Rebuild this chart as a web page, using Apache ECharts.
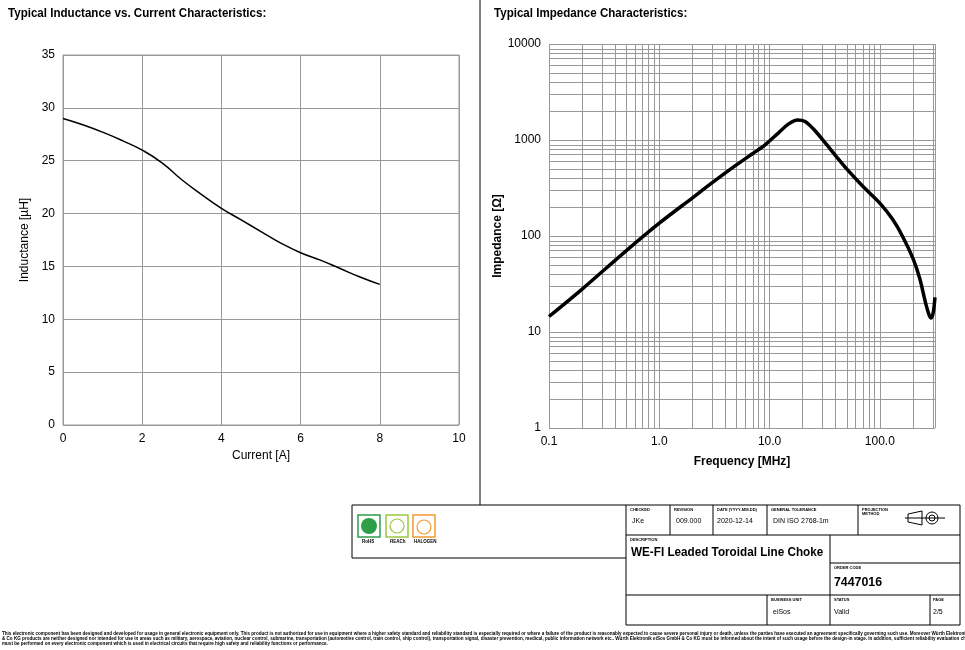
<!DOCTYPE html>
<html><head><meta charset="utf-8">
<script src="https://cdn.jsdelivr.net/npm/echarts@6/dist/echarts.min.js"></script>
<style>html,body{margin:0;padding:0;background:#fff}#c{width:965px;height:650px}</style>
</head><body><div id="c"></div>
<script>
const currentA = [0, 0.5, 1, 1.5, 2, 2.5, 3, 3.5, 4, 4.5, 5, 5.5, 6, 6.5, 7, 7.5, 8];
const inductanceUH = [29, 28.4, 27.7, 26.9, 26.0, 24.8, 23.2, 21.8, 20.5, 19.4, 18.3, 17.2, 16.3, 15.6, 14.8, 14.0, 13.3];
const freqMHz = [0.1, 0.2, 0.5, 1, 2, 3, 5, 7, 9, 12, 15, 18, 21, 25, 30, 40, 50, 70, 100, 130, 160, 200, 230, 260, 280, 292, 305, 316];
const impedanceOhm = [14.5, 28, 70, 136, 250, 357, 550, 720, 880, 1180, 1480, 1620, 1560, 1300, 1020, 680, 500, 330, 220, 150, 100, 58, 36, 20, 15, 14, 16, 23];
const xTicks = ['0.1', '1.0', '10.0', '100.0'];
const yTicks = ['1', '10', '100', '1000', '10000'];

const L = v => Math.log10(v);
const minorX = [], minorY = [];
for (let d = -1; d <= 2; d++) for (let k = 1; k <= 9; k++) { const v = d + L(k); if (v <= 2.5) minorX.push(v); }
for (let d = 0; d <= 3; d++) for (let k = 1; k <= 9; k++) minorY.push(d + L(k));
minorY.push(4);

const chart = echarts.init(document.getElementById('c'));
const F = 'Liberation Sans, Arial, sans-serif';
const gray = '#999';
function line(x1, y1, x2, y2) { return { type: 'line', shape: { x1, y1, x2, y2 }, style: { stroke: '#000', lineWidth: 1 } }; }
function txt(x, y, t, size, bold, sx) { return { type: 'text', x, y, scaleX: sx || 1, style: { text: t, font: (bold ? 'bold ' : '') + size + 'px ' + F, fill: '#000' } }; }

const graphics = [
  txt(8, 7, 'Typical Inductance vs. Current Characteristics:', 13, true, 0.89),
  txt(494, 7, 'Typical Impedance Characteristics:', 13, true, 0.89),
  line(480, 0, 480, 505),
  line(352, 505, 960, 505), line(352, 505, 352, 558), line(352, 558, 626, 558),
  line(626, 505, 626, 625), line(626, 625, 960, 625), line(960, 505, 960, 625),
  line(626, 535, 960, 535), line(830, 535, 830, 625), line(830, 563, 960, 563), line(626, 595, 960, 595),
  line(670, 505, 670, 535), line(713, 505, 713, 535), line(767, 505, 767, 535), line(858, 505, 858, 535),
  line(767, 595, 767, 625), line(930, 595, 930, 625),
  { type: 'rect', shape: { x: 358, y: 515, width: 22, height: 22 }, style: { fill: 'none', stroke: '#2e9e48', lineWidth: 1.5 } },
  { type: 'circle', shape: { cx: 369, cy: 526, r: 8 }, style: { fill: '#2e9e48' } },
  { type: 'rect', shape: { x: 386, y: 515, width: 22, height: 22 }, style: { fill: 'none', stroke: '#9bc83c', lineWidth: 1.5 } },
  { type: 'circle', shape: { cx: 397, cy: 526, r: 7 }, style: { fill: 'none', stroke: '#9bc83c', lineWidth: 1.2 } },
  { type: 'rect', shape: { x: 413, y: 515, width: 22, height: 22 }, style: { fill: 'none', stroke: '#f29a2e', lineWidth: 1.5 } },
  { type: 'circle', shape: { cx: 424, cy: 527, r: 7 }, style: { fill: 'none', stroke: '#f29a2e', lineWidth: 1.2 } },
  txt(362, 539, 'RoHS', 4.5, true), txt(390, 539, 'REACh', 4.5, true), txt(414, 539, 'HALOGEN', 4.5, true),
  txt(630, 508, 'CHECKED', 4, true), txt(632, 518, 'JKe', 7),
  txt(674, 508, 'REVISION', 4, true), txt(676, 518, '009.000', 7),
  txt(717, 508, 'DATE (YYYY-MM-DD)', 4, true), txt(717, 518, '2020-12-14', 7),
  txt(771, 508, 'GENERAL TOLERANCE', 4, true), txt(773, 518, 'DIN ISO 2768-1m', 7),
  txt(862, 508, 'PROJECTION\nMETHOD', 4, true),
  txt(630, 538, 'DESCRIPTION', 4, true),
  txt(631, 546, 'WE-FI Leaded Toroidal Line Choke', 13, true, 0.9),
  txt(834, 566, 'ORDER CODE', 4, true), txt(834, 576, '7447016', 13, true, 0.95),
  txt(771, 598, 'BUSINESS UNIT', 4, true), txt(773, 609, 'eiSos', 7),
  txt(834, 598, 'STATUS', 4, true), txt(834, 609, 'Valid', 7),
  txt(933, 598, 'PAGE', 4, true), txt(933, 609, '2/5', 7),
  line(905, 518, 945, 518), { type: 'circle', shape: { cx: 932, cy: 518, r: 6 }, style: { fill: 'none', stroke: '#000' } },
  { type: 'circle', shape: { cx: 932, cy: 518, r: 3 }, style: { fill: 'none', stroke: '#000' } },
  { type: 'polygon', shape: { points: [[908, 514], [922, 511], [922, 525], [908, 522]] }, style: { fill: 'none', stroke: '#000' } },
  txt(2, 631, 'This electronic component has been designed and developed for usage in general electronic equipment only. This product is not authorized for use in equipment where a higher safety standard and reliability standard is especially required or where a failure of the product is reasonably expected to cause severe personal injury or death, unless the parties have executed an agreement specifically governing such use. Moreover Würth Elektronik eiSos GmbH\n& Co KG products are neither designed nor intended for use in areas such as military, aerospace, aviation, nuclear control, submarine, transportation (automotive control, train control, ship control), transportation signal, disaster prevention, medical, public information network etc.. Würth Elektronik eiSos GmbH & Co KG must be informed about the intent of such usage before the design-in stage. In addition, sufficient reliability evaluation checks for safety\nmust be performed on every electronic component which is used in electrical circuits that require high safety and reliability functions or performance.', 4.6, true, 0.995)
];

const gridStyle = { show: true, lineStyle: { color: gray, width: 1 } };
chart.setOption({
  animation: false,
  textStyle: { fontFamily: F },
  grid: [
    { left: 63, top: 55, width: 396, height: 370 },
    { left: 549, top: 44, width: 386, height: 384 }
  ],
  xAxis: [
    { gridIndex: 0, type: 'value', min: 0, max: 10, interval: 2, name: 'Current [A]', nameLocation: 'middle', nameGap: 22,
      nameTextStyle: { fontSize: 12, color: '#000' }, axisLine: { show: false }, axisTick: { show: false },
      axisLabel: { color: '#000', fontSize: 12 }, splitLine: gridStyle },
    { gridIndex: 1, type: 'value', min: -1, max: 2.5, interval: 1, name: 'Frequency [MHz]', nameLocation: 'middle', nameGap: 28,
      nameTextStyle: { fontSize: 12, fontWeight: 'bold', color: '#000' }, axisLine: { show: false }, axisTick: { show: false },
      axisLabel: { color: '#000', fontSize: 12, formatter: v => xTicks[Math.round(v) + 1] || '', showMaxLabel: false }, splitLine: { show: false } }
  ],
  yAxis: [
    { gridIndex: 0, type: 'value', min: 0, max: 35, interval: 5, name: 'Inductance [µH]', nameLocation: 'middle', nameGap: 32,
      nameTextStyle: { fontSize: 12, color: '#000' }, axisLine: { show: false }, axisTick: { show: false },
      axisLabel: { color: '#000', fontSize: 12 }, splitLine: gridStyle },
    { gridIndex: 1, type: 'value', min: 0, max: 4, interval: 1, name: 'Impedance [Ω]', nameLocation: 'middle', nameGap: 36,
      nameTextStyle: { fontSize: 12, fontWeight: 'bold', color: '#000' }, axisLine: { show: false }, axisTick: { show: false },
      axisLabel: { color: '#000', fontSize: 12, formatter: v => yTicks[Math.round(v)] }, splitLine: { show: false } }
  ],
  series: [
    { type: 'line', xAxisIndex: 0, yAxisIndex: 0, smooth: true, symbol: 'none',
      data: currentA.map((x, i) => [x, inductanceUH[i]]), lineStyle: { color: '#000', width: 1.5 },
      markArea: { silent: true, itemStyle: { color: 'none', borderColor: gray, borderWidth: 1 }, data: [[{ coord: [0, 0] }, { coord: [10, 35] }]] } },
    { type: 'line', xAxisIndex: 1, yAxisIndex: 1, smooth: 0.3, symbol: 'none', z: 5,
      data: freqMHz.map((f, i) => [L(f), L(impedanceOhm[i])]), lineStyle: { color: '#000', width: 3.5 },
      markLine: { silent: true, symbol: 'none', label: { show: false }, animation: false,
        lineStyle: { color: gray, width: 1, type: 'solid' },
        data: minorX.map(v => ({ xAxis: v })).concat(minorY.map(v => ({ yAxis: v })), [{ xAxis: 2.5 }]) } }
  ],
  graphic: graphics
});
</script></body></html>
